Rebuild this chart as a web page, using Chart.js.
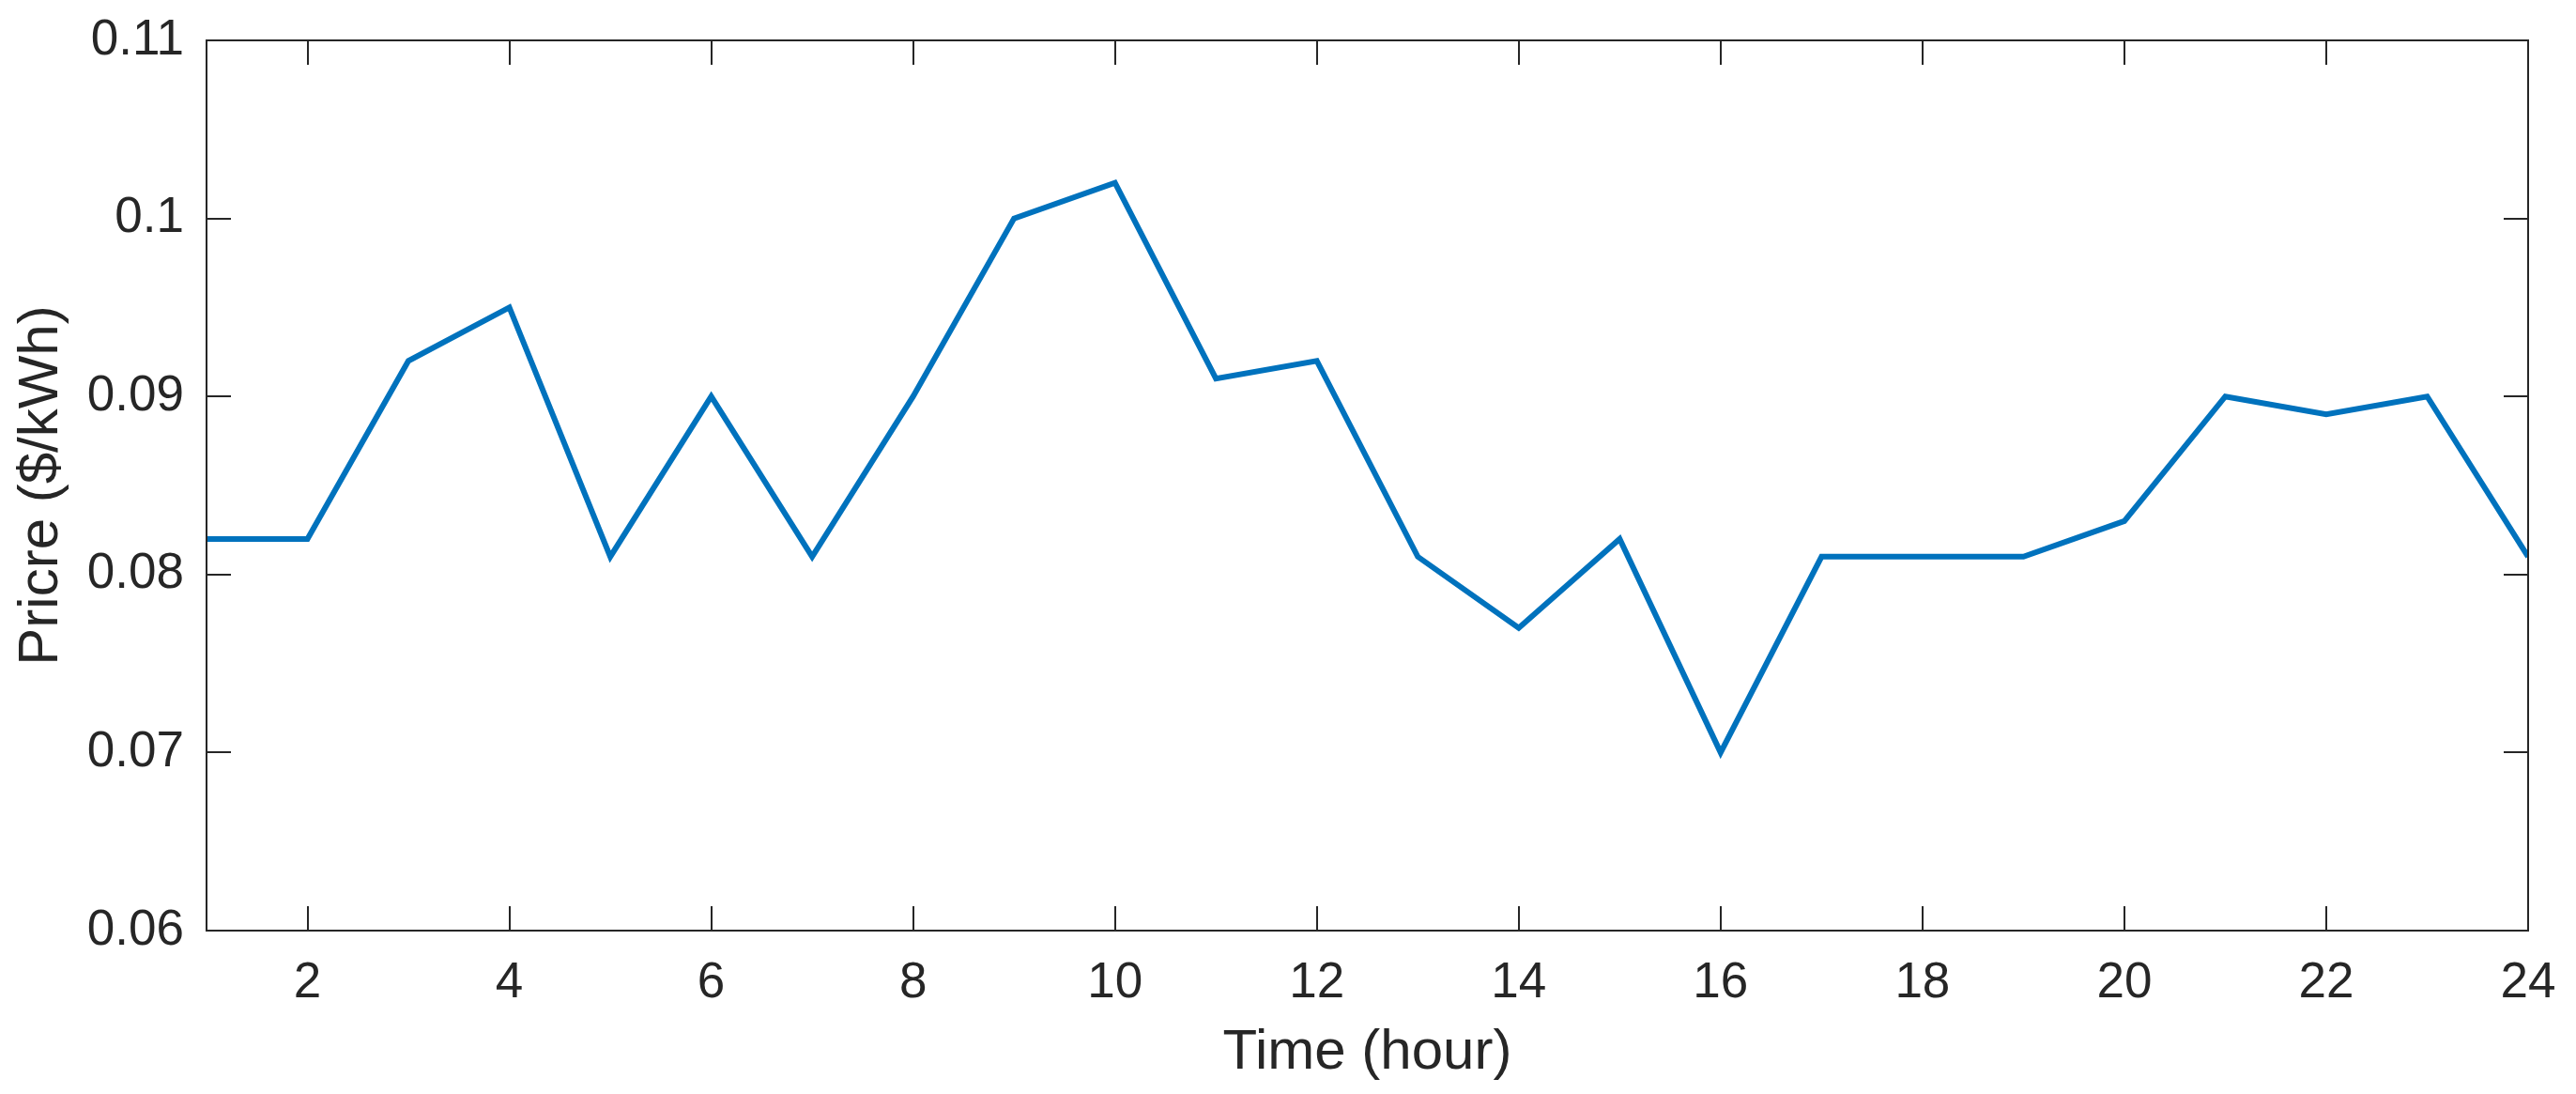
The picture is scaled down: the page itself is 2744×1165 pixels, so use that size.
<!DOCTYPE html>
<html>
<head>
<meta charset="utf-8">
<script src="https://cdn.jsdelivr.net/npm/chart.js@4.4.1/dist/chart.umd.min.js"></script>
<style>
  html, body { margin: 0; padding: 0; background: #ffffff; }
  #wrap { width: 2744px; height: 1165px; }
</style>
</head>
<body>
<div id="wrap"><canvas id="c" width="2744" height="1165"></canvas></div>
<script>
const hours = [1,2,3,4,5,6,7,8,9,10,11,12,13,14,15,16,17,18,19,20,21,22,23,24];
const prices = [0.082,0.082,0.092,0.095,0.081,0.090,0.081,0.090,0.100,0.102,0.091,0.092,
                0.081,0.077,0.082,0.070,0.081,0.081,0.081,0.083,0.090,0.089,0.090,0.081];
const xTicks = [2,4,6,8,10,12,14,16,18,20,22,24];
const yTicks = [0.06,0.07,0.08,0.09,0.10,0.11];
const yTickLabels = ['0.06','0.07','0.08','0.09','0.1','0.11'];
const xTitle = 'Time (hour)';
const yTitle = 'Pricre ($/kWh)';

const FONT = '"Liberation Sans", Arial, Helvetica, sans-serif';
const INK = '#262626';

const boxPlugin = {
  id: 'matlabBox',
  afterDraw(chart) {
    const ctx = chart.ctx;
    const a = chart.chartArea;
    const xs = chart.scales.x, ys = chart.scales.y;
    const TL = 26;
    ctx.save();
    ctx.strokeStyle = INK;
    ctx.lineWidth = 2;
    ctx.beginPath();
    xTicks.forEach(v => {
      const px = Math.round(xs.getPixelForValue(v));
      ctx.moveTo(px, a.bottom); ctx.lineTo(px, a.bottom - TL);
      ctx.moveTo(px, a.top); ctx.lineTo(px, a.top + TL);
    });
    yTicks.forEach(v => {
      const py = Math.round(ys.getPixelForValue(v));
      ctx.moveTo(a.left, py); ctx.lineTo(a.left + TL, py);
      ctx.moveTo(a.right, py); ctx.lineTo(a.right - TL, py);
    });
    ctx.stroke();
    ctx.strokeRect(a.left, a.top, a.right - a.left, a.bottom - a.top);
    ctx.restore();
  }
};

new Chart(document.getElementById('c'), {
  type: 'line',
  data: {
    datasets: [{
      data: hours.map((h, i) => ({x: h, y: prices[i]})),
      borderColor: '#0072BD',
      borderWidth: 6,
      pointRadius: 0,
      tension: 0,
      fill: false,
      borderJoinStyle: 'miter'
    }]
  },
  options: {
    responsive: false,
    animation: false,
    devicePixelRatio: 1,
    layout: { padding: { top: 43, right: 51, left: 0, bottom: 0 } },
    plugins: { legend: { display: false }, tooltip: { enabled: false } },
    scales: {
      x: {
        type: 'linear',
        min: 1, max: 24,
        afterBuildTicks: s => { s.ticks = xTicks.map(v => ({value: v})); },
        afterFit: s => { s.height = 174; s.paddingLeft = 0; s.paddingRight = 0; },
        grid: { display: false, drawTicks: false },
        border: { display: false },
        ticks: {
          padding: 25,
          maxRotation: 0,
          autoSkip: false,
          color: INK,
          font: { family: FONT, size: 53 },
          callback: v => String(v)
        },
        title: {
          display: true, text: xTitle, color: INK,
          font: { family: FONT, size: 60 },
          padding: { top: 0, bottom: 8 }
        }
      },
      y: {
        type: 'linear',
        min: 0.06, max: 0.11,
        afterBuildTicks: s => { s.ticks = yTicks.map(v => ({value: v})); },
        afterFit: s => { s.width = 220; s.paddingTop = 0; s.paddingBottom = 0; },
        grid: { display: false, drawTicks: false },
        border: { display: false },
        ticks: {
          padding: 24,
          autoSkip: false,
          color: INK,
          font: { family: FONT, size: 53 },
          callback: (v, i) => yTickLabels[i]
        },
        title: {
          display: true, text: yTitle, color: INK,
          font: { family: FONT, size: 60 },
          padding: { top: 8, bottom: 0 }
        }
      }
    }
  },
  plugins: [boxPlugin]
});
</script>
</body>
</html>
